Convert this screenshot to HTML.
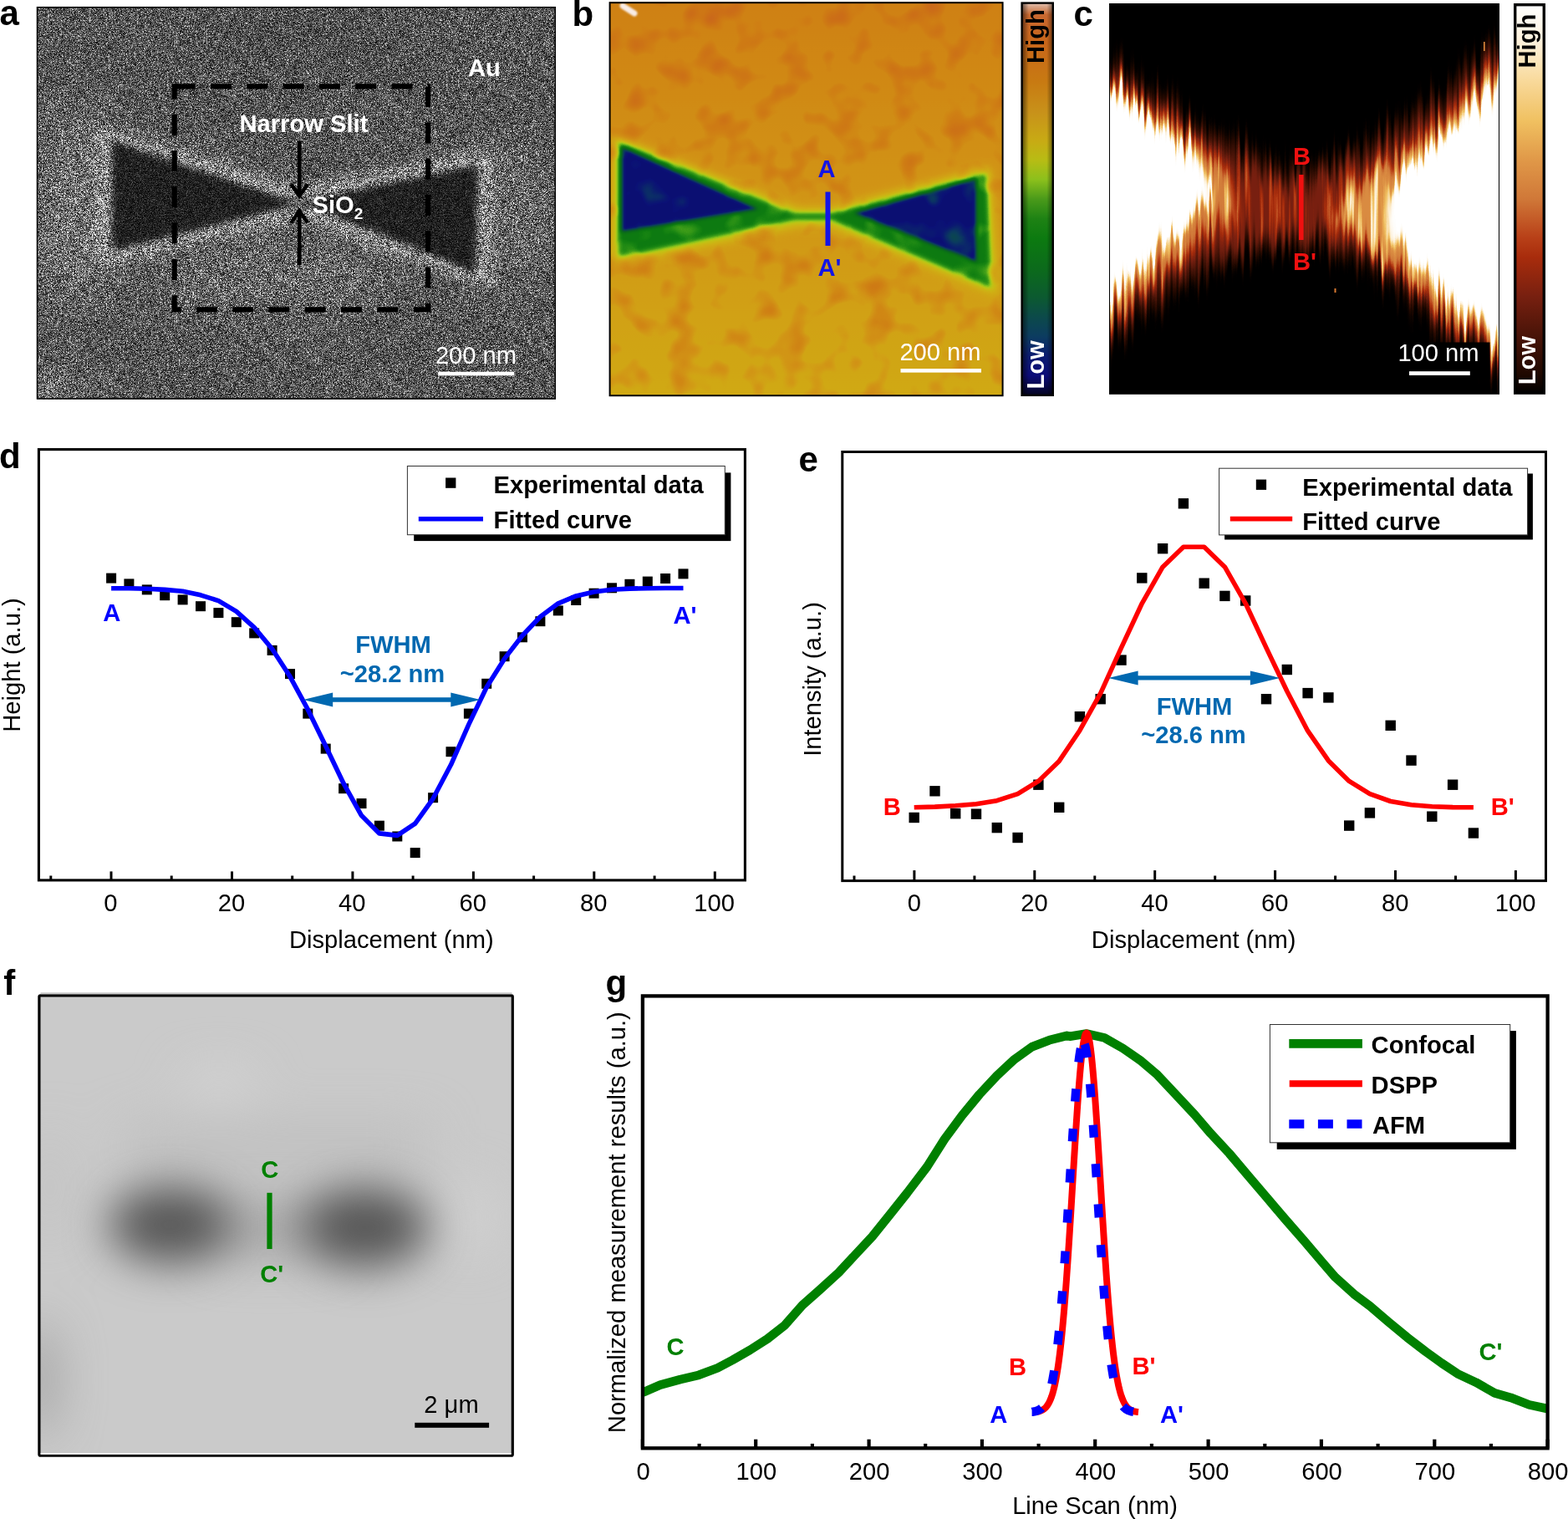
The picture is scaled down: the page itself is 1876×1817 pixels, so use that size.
<!DOCTYPE html>
<html lang="en"><head><meta charset="utf-8"><title>Figure</title>
<style>html,body{margin:0;padding:0;background:#fff;}body{width:1876px;height:1817px;overflow:hidden;}svg{display:block;}text{font-family:"Liberation Sans",sans-serif;}</style>
</head><body>
<svg width="1876" height="1817" viewBox="0 0 1876 1817">
<rect x="0" y="0" width="1876" height="1817" fill="#fff"/>
<defs>
<filter id="blur1" filterUnits="userSpaceOnUse" x="-100" y="-100" width="2100" height="700" color-interpolation-filters="sRGB"><feGaussianBlur stdDeviation="1.2"/></filter>
<filter id="blur2" filterUnits="userSpaceOnUse" x="-100" y="-100" width="2100" height="700" color-interpolation-filters="sRGB"><feGaussianBlur stdDeviation="2"/></filter>
<filter id="blur3" filterUnits="userSpaceOnUse" x="-100" y="-100" width="2100" height="700" color-interpolation-filters="sRGB"><feGaussianBlur stdDeviation="3"/></filter>
<filter id="blur4" filterUnits="userSpaceOnUse" x="-100" y="-100" width="2100" height="700" color-interpolation-filters="sRGB"><feGaussianBlur stdDeviation="4"/></filter>
<filter id="blur8" filterUnits="userSpaceOnUse" x="-100" y="-100" width="2100" height="700" color-interpolation-filters="sRGB"><feGaussianBlur stdDeviation="8"/></filter>
<filter id="blur6" filterUnits="userSpaceOnUse" x="-100" y="-100" width="2100" height="700" color-interpolation-filters="sRGB"><feGaussianBlur stdDeviation="6"/></filter>
<filter id="blur12" filterUnits="userSpaceOnUse" x="-100" y="-100" width="2100" height="700" color-interpolation-filters="sRGB"><feGaussianBlur stdDeviation="12"/></filter>
<filter id="blur16" filterUnits="userSpaceOnUse" x="-100" y="-100" width="2100" height="700" color-interpolation-filters="sRGB"><feGaussianBlur stdDeviation="16"/></filter>
<filter id="blur30a" filterUnits="userSpaceOnUse" x="-100" y="-100" width="900" height="700" color-interpolation-filters="sRGB"><feGaussianBlur stdDeviation="28"/></filter>
<filter id="blur26" filterUnits="userSpaceOnUse" x="0" y="1100" width="700" height="700" color-interpolation-filters="sRGB"><feGaussianBlur stdDeviation="26"/></filter>
<filter id="blur30" filterUnits="userSpaceOnUse" x="0" y="1100" width="700" height="700" color-interpolation-filters="sRGB"><feGaussianBlur stdDeviation="30"/></filter>
<filter id="semnoise" x="0" y="0" width="100%" height="100%" color-interpolation-filters="sRGB">
  <feTurbulence type="fractalNoise" baseFrequency="2.3" numOctaves="1" seed="7" result="n"/>
  <feColorMatrix in="n" type="matrix" values="2.2 0 0 0 -0.6  2.2 0 0 0 -0.6  2.2 0 0 0 -0.6  0 0 0 0 1" result="g"/>
  <feComponentTransfer in="g" result="g2"><feFuncR type="gamma" exponent="1.6"/><feFuncG type="gamma" exponent="1.6"/><feFuncB type="gamma" exponent="1.6"/></feComponentTransfer>
  <feComposite in="SourceGraphic" in2="g2" operator="arithmetic" k1="2.35" k2="0.1" k3="0" k4="0"/>
</filter>
<clipPath id="clipA"><rect x="44" y="8" width="621" height="469.5"/></clipPath>
<clipPath id="clipB"><rect x="729" y="2.5" width="471" height="471"/></clipPath>
<clipPath id="clipC"><rect x="1327" y="4" width="467" height="467.6"/></clipPath>
<clipPath id="clipF"><rect x="46.6" y="1190" width="567.2" height="552"/></clipPath>
</defs>
<g id="panel-a">
<g clip-path="url(#clipA)">
<g filter="url(#semnoise)">
<rect x="44" y="8" width="621" height="469.5" fill="#5e5e5e"/>
<g filter="url(#blur30a)">
<ellipse cx="90" cy="250" rx="45" ry="120" fill="#808080"/>
<ellipse cx="350" cy="50" rx="130" ry="40" fill="#565656"/>
<ellipse cx="58" cy="474" rx="32" ry="10" fill="#e0e0e0"/>
<ellipse cx="330" cy="330" rx="150" ry="40" fill="#767676"/>
<ellipse cx="620" cy="260" rx="30" ry="90" fill="#7a7a7a"/>
</g>
<g filter="url(#blur8)">
<polygon points="116,150 358,226 588,180 588,344 358,260 116,318" fill="#aaaaaa"/>
</g>
<g filter="url(#blur4)">
<polygon points="133,167 338,236 358,241 380,236 573,196 570,328 380,251 358,246 338,250 133,302" fill="#242424"/>
</g>
<g filter="url(#blur8)">
<ellipse cx="358" cy="243" rx="22" ry="9" fill="#686868" opacity="0.6"/>
</g>
</g>
</g>
<rect x="44.5" y="8.7" width="619.8" height="468.2" fill="none" stroke="#000" stroke-width="1.5"/>
<rect x="208.7" y="103.4" width="303.4" height="267" fill="none" stroke="#000" stroke-width="6.2" stroke-dasharray="25 18.3"/>
<text x="286.5" y="158.0" font-size="29.17" font-weight="bold" fill="#fff" text-anchor="start" >Narrow Slit</text>
<text x="560.0" y="90.7" font-size="29.17" font-weight="bold" fill="#fff" text-anchor="start" >Au</text>
<text x="373.5" y="254.5" font-size="29.17" font-weight="bold" fill="#fff">SiO<tspan font-size="19" dy="7">2</tspan></text>
<g stroke="#000" fill="none">
<line x1="358.2" y1="168.9" x2="358.2" y2="236" stroke-width="4.7"/>
<polyline points="348.3,220.3 358.2,234.6 368.1,220.3" stroke-width="4.4"/>
<line x1="358.2" y1="317.2" x2="358.2" y2="250.5" stroke-width="4.7"/>
<polyline points="348.3,266.5 358.2,252.2 368.1,266.5" stroke-width="4.4"/>
</g>
<rect x="524.3" y="444.7" width="90.7" height="4.6" fill="#fff"/>
<text x="569.5" y="434.7" font-size="29.17" font-weight="normal" fill="#fff" text-anchor="middle" >200 nm</text>
</g>
<g id="panel-b">
<filter id="fb" filterUnits="userSpaceOnUse" x="700" y="-30" width="530" height="540" color-interpolation-filters="sRGB">
<feTurbulence type="fractalNoise" baseFrequency="0.03" numOctaves="2" seed="11" result="n"/>
<feColorMatrix in="n" type="matrix" values="0.34 0 0 0 -0.17  0.34 0 0 0 -0.17  0.34 0 0 0 -0.17  0 0 0 0 1" result="n2"/>
<feComposite in="SourceGraphic" in2="n2" operator="arithmetic" k1="0" k2="1" k3="1" k4="0" result="h"/>
<feComponentTransfer in="h"><feFuncR type="table" tableValues="0.016 0.035 0.047 0.047 0.047 0.047 0.047 0.047 0.047 0.047 0.047 0.047 0.047 0.056 0.100 0.182 0.290 0.462 0.616 0.743 0.792 0.816 0.820 0.823 0.819 0.815 0.810 0.805 0.800 0.795 0.790 0.785 0.878"/><feFuncG type="table" tableValues="0.016 0.035 0.063 0.102 0.173 0.242 0.276 0.314 0.353 0.381 0.409 0.434 0.459 0.486 0.525 0.579 0.643 0.731 0.780 0.771 0.729 0.681 0.636 0.590 0.553 0.516 0.484 0.460 0.435 0.415 0.411 0.408 0.753"/><feFuncB type="table" tableValues="0.125 0.341 0.463 0.443 0.408 0.366 0.312 0.252 0.188 0.153 0.118 0.096 0.077 0.065 0.075 0.087 0.102 0.107 0.102 0.082 0.078 0.079 0.083 0.086 0.083 0.080 0.080 0.085 0.090 0.103 0.145 0.187 0.690"/><feFuncA type="linear" slope="0" intercept="1"/></feComponentTransfer>
</filter>
<linearGradient id="gbbg" x1="0" y1="0" x2="0" y2="1">
<stop offset="0" stop-color="#cccccc"/><stop offset="0.5" stop-color="#b8b8b8"/><stop offset="1" stop-color="#a8a8a8"/></linearGradient>
<linearGradient id="gbbar" x1="0" y1="1" x2="0" y2="0"><stop offset="0" stop-color="#040420"/><stop offset="0.05" stop-color="#0c0c78"/><stop offset="0.1" stop-color="#0c1c70"/><stop offset="0.15" stop-color="#0c3c60"/><stop offset="0.2" stop-color="#0c4a4a"/><stop offset="0.25" stop-color="#0c5a30"/><stop offset="0.32" stop-color="#0c6a1c"/><stop offset="0.4" stop-color="#0c7a10"/><stop offset="0.45" stop-color="#1e8214"/><stop offset="0.5" stop-color="#4a9a1a"/><stop offset="0.55" stop-color="#8cc01c"/><stop offset="0.6" stop-color="#b8bc14"/><stop offset="0.65" stop-color="#c8aa14"/><stop offset="0.72" stop-color="#c8921a"/><stop offset="0.8" stop-color="#c87a12"/><stop offset="0.9" stop-color="#c8661a"/><stop offset="0.97" stop-color="#c86830"/><stop offset="1.0" stop-color="#e0c0b0"/></linearGradient>
<g clip-path="url(#clipB)">
<g filter="url(#fb)">
<rect x="700" y="-30" width="530" height="540" fill="url(#gbbg)"/>
<g filter="url(#blur6)">
<polygon points="734,162 955,250 993,250 1184,200 1192,352 993,270 955,270 734,316" fill="#959595"/>
</g>
<g filter="url(#blur3)">
<polygon points="740,170 950,256 995,256 1180,208 1185,343 995,262 950,262 740,307" fill="#666666"/>
</g>
<g filter="url(#blur2)">
<polygon points="744,176 907,250 744,277" fill="#0f0f0f"/>
<polygon points="1168,214 1022,255 1168,313" fill="#0f0f0f"/>
</g>
</g>
</g>
<g clip-path="url(#clipB)"><line x1="745" y1="7" x2="759" y2="16" stroke="#f8ece6" stroke-width="7" stroke-linecap="round" filter="url(#blur1)"/></g>
<rect x="729.6" y="3.2" width="470" height="470" fill="none" stroke="#000" stroke-width="2"/>
<rect x="987.5" y="229.5" width="6" height="64.5" fill="#1414e6"/>
<text x="978.5" y="211.5" font-size="29.17" font-weight="bold" fill="#1414e6" text-anchor="start" >A</text>
<text x="978.5" y="330.0" font-size="29.17" font-weight="bold" fill="#1414e6" text-anchor="start" >A'</text>
<rect x="1077.5" y="441" width="96.5" height="4.6" fill="#fff"/>
<text x="1125.0" y="431.0" font-size="29.17" font-weight="normal" fill="#fff" text-anchor="middle" >200 nm</text>
<linearGradient id="bevel" x1="0" y1="0" x2="1" y2="0"><stop offset="0" stop-color="#000" stop-opacity="0.55"/><stop offset="0.22" stop-color="#000" stop-opacity="0"/><stop offset="0.8" stop-color="#000" stop-opacity="0"/><stop offset="1" stop-color="#000" stop-opacity="0.45"/></linearGradient>
<rect x="1222.6" y="3.6" width="37.2" height="469.2" fill="url(#gbbar)"/>
<rect x="1222.6" y="3.6" width="37.2" height="469.2" fill="url(#bevel)" stroke="#000" stroke-width="2.4"/>
<text transform="translate(1249.2,76) rotate(-90)" font-size="29.17" font-weight="bold" fill="#000">High</text>
<text transform="translate(1249.2,465.6) rotate(-90)" font-size="29.17" font-weight="bold" fill="#fff">Low</text>
</g>
<g id="panel-c">
<filter id="fc" filterUnits="userSpaceOnUse" x="1260" y="-60" width="600" height="600" color-interpolation-filters="sRGB">
<feTurbulence type="fractalNoise" baseFrequency="0.19 0.006" numOctaves="2" seed="5" result="n"/>
<feColorMatrix in="n" type="matrix" values="0 0 0 0 0.5  0 2.2 0 0 -0.6  0 0 0 0 0  0 0 0 0 1" result="dm"/>
<feDisplacementMap in="SourceGraphic" in2="dm" scale="36" xChannelSelector="R" yChannelSelector="G" result="d"/>
<feColorMatrix in="n" type="matrix" values="0 0 1.6 0 -0.8  0 0 1.6 0 -0.8  0 0 1.6 0 -0.8  0 0 0 0 1" result="n3"/>
<feComposite in="d" in2="n3" operator="arithmetic" k1="1.8" k2="1.0" k3="0" k4="0" result="h"/>
<feComponentTransfer in="h"><feFuncR type="table" tableValues="0.000 0.078 0.146 0.198 0.249 0.301 0.358 0.414 0.471 0.529 0.588 0.647 0.690 0.727 0.757 0.786 0.816 0.835 0.855 0.875 0.894 0.914 0.933 0.947 0.957 0.967 0.975 0.981 0.987 0.993 0.995 0.998 1.000"/><feFuncG type="table" tableValues="0.000 0.020 0.037 0.052 0.067 0.081 0.096 0.111 0.125 0.140 0.155 0.170 0.212 0.265 0.333 0.402 0.471 0.510 0.549 0.588 0.635 0.684 0.733 0.771 0.800 0.829 0.859 0.888 0.918 0.945 0.963 0.982 1.000"/><feFuncB type="table" tableValues="0.000 0.000 0.004 0.014 0.024 0.033 0.043 0.053 0.063 0.058 0.053 0.048 0.071 0.102 0.141 0.180 0.220 0.239 0.259 0.278 0.306 0.335 0.365 0.418 0.486 0.555 0.627 0.706 0.784 0.857 0.904 0.952 1.000"/><feFuncA type="linear" slope="0" intercept="1"/></feComponentTransfer>
</filter>
<linearGradient id="gcbar" x1="0" y1="1" x2="0" y2="0"><stop offset="0" stop-color="#000000"/><stop offset="0.05" stop-color="#200800"/><stop offset="0.15" stop-color="#4a1408"/><stop offset="0.25" stop-color="#782010"/><stop offset="0.35" stop-color="#a82c0c"/><stop offset="0.4" stop-color="#b84018"/><stop offset="0.5" stop-color="#d07838"/><stop offset="0.6" stop-color="#e09848"/><stop offset="0.7" stop-color="#f0c060"/><stop offset="0.8" stop-color="#f8d898"/><stop offset="0.9" stop-color="#fdf0d8"/><stop offset="1.0" stop-color="#ffffff"/></linearGradient>
<g clip-path="url(#clipC)">
<g filter="url(#fc)">
<rect x="1260" y="-60" width="600" height="600" fill="#000"/>
<g filter="url(#blur12)">
<polygon points="1280,40 1327,80 1400,135 1470,180 1530,205 1560,212 1600,200 1660,170 1720,125 1794,70 1840,35 1840,480 1794,438 1740,392 1690,345 1640,310 1590,290 1550,284 1500,290 1450,310 1400,340 1327,392 1280,430" fill="#404040"/>
</g>
<g filter="url(#blur8)">
<polygon points="1280,54 1327,92 1380,132 1430,170 1475,215 1480,250 1440,285 1400,318 1327,378 1280,420" fill="#858585"/>
<polygon points="1840,44 1794,88 1740,134 1690,178 1630,212 1598,255 1640,300 1700,345 1750,390 1794,428 1840,466" fill="#8f8f8f"/>
</g>
<g filter="url(#blur4)">
<polygon points="1280,64 1327,104 1377,142 1427,185 1450,226 1450,242 1402,284 1352,334 1327,359 1280,404" fill="#fff"/>
<polygon points="1840,58 1794,100 1700,189 1662,225 1658,255 1662,285 1700,321 1750,371 1794,408 1840,450" fill="#fff"/>
</g>
</g>
</g>
<rect x="1327.5" y="4.5" width="466" height="466.6" fill="none" stroke="#000" stroke-width="1"/>
<rect x="1775" y="50" width="1.6" height="11" fill="#e08a3c"/>
<rect x="1596.5" y="345" width="2" height="5" fill="#d87830"/>
<rect x="1554" y="209" width="5.6" height="78" fill="#f01010"/>
<text x="1547.0" y="197.0" font-size="29.17" font-weight="bold" fill="#f01010" text-anchor="start" >B</text>
<text x="1547.0" y="323.0" font-size="29.17" font-weight="bold" fill="#f01010" text-anchor="start" >B'</text>
<rect x="1668" y="409.5" width="114.5" height="44" fill="#000"/>
<rect x="1686" y="444.2" width="72.8" height="4.7" fill="#fff"/>
<text x="1721.0" y="432.0" font-size="29.17" font-weight="normal" fill="#fff" text-anchor="middle" >100 nm</text>
<rect x="1812.7" y="5.7" width="34.6" height="464.4" fill="url(#gcbar)" stroke="#000" stroke-width="3.4"/>
<text transform="translate(1837.4,81.5) rotate(-90)" font-size="29.17" font-weight="bold" fill="#000">High</text>
<text transform="translate(1837.4,460.3) rotate(-90)" font-size="29.17" font-weight="bold" fill="#fff">Low</text>
</g>
<g id="panel-f">
<g clip-path="url(#clipF)">
<rect x="46.6" y="1190" width="567.2" height="552" fill="#cacaca"/>
<g filter="url(#blur30)">
<ellipse cx="262" cy="1298" rx="45" ry="12" fill="#dcdcdc"/>
<ellipse cx="560" cy="1455" rx="30" ry="40" fill="#d2d2d2"/>
<ellipse cx="46" cy="1650" rx="14" ry="70" fill="#8c8c8c"/>
<ellipse cx="60" cy="1420" rx="10" ry="70" fill="#bcbcbc"/>
<rect x="150" y="1350" width="360" height="40" fill="#bcbcbc"/>
<rect x="250" y="1440" width="150" height="60" fill="#a4a4a4"/>
</g>
<g filter="url(#blur26)">
<ellipse cx="204" cy="1465" rx="74" ry="46" fill="#565656"/>
<ellipse cx="437" cy="1468" rx="76" ry="48" fill="#565656"/>
</g>
</g>
<rect x="46.9" y="1190.8" width="566.4" height="550.4" rx="1.5" fill="none" stroke="#000" stroke-width="3.2"/>
<rect x="48.5" y="1187.2" width="564" height="2" fill="#c8c8c8"/>
<rect x="48.5" y="1738.2" width="563.2" height="1.6" fill="#fff"/>
<rect x="319.4" y="1426.8" width="6.2" height="67.2" fill="#008000"/>
<text x="312.2" y="1409.3" font-size="29.17" font-weight="bold" fill="#008000" text-anchor="start" >C</text>
<text x="311.3" y="1534.3" font-size="29.17" font-weight="bold" fill="#008000" text-anchor="start" >C'</text>
<rect x="496.3" y="1701.8" width="88.8" height="6" fill="#000"/>
<text x="540.0" y="1689.9" font-size="29.17" font-weight="normal" fill="#000" text-anchor="middle" >2 μm</text>
</g>
<g id="plot-d">
<rect x="46.4" y="537.6" width="845.0" height="515.3" fill="#fff" stroke="#000" stroke-width="3.1"/>
<line x1="60.8" y1="1052.9" x2="60.8" y2="1047.5" stroke="#000" stroke-width="3"/>
<line x1="133.0" y1="1052.9" x2="133.0" y2="1042.4" stroke="#000" stroke-width="3"/>
<text x="132.4" y="1090.0" font-size="29.17" font-weight="normal" fill="#000" text-anchor="middle" >0</text>
<line x1="205.2" y1="1052.9" x2="205.2" y2="1047.5" stroke="#000" stroke-width="3"/>
<line x1="277.5" y1="1052.9" x2="277.5" y2="1042.4" stroke="#000" stroke-width="3"/>
<text x="276.9" y="1090.0" font-size="29.17" font-weight="normal" fill="#000" text-anchor="middle" >20</text>
<line x1="349.7" y1="1052.9" x2="349.7" y2="1047.5" stroke="#000" stroke-width="3"/>
<line x1="421.9" y1="1052.9" x2="421.9" y2="1042.4" stroke="#000" stroke-width="3"/>
<text x="421.3" y="1090.0" font-size="29.17" font-weight="normal" fill="#000" text-anchor="middle" >40</text>
<line x1="494.1" y1="1052.9" x2="494.1" y2="1047.5" stroke="#000" stroke-width="3"/>
<line x1="566.4" y1="1052.9" x2="566.4" y2="1042.4" stroke="#000" stroke-width="3"/>
<text x="565.8" y="1090.0" font-size="29.17" font-weight="normal" fill="#000" text-anchor="middle" >60</text>
<line x1="638.6" y1="1052.9" x2="638.6" y2="1047.5" stroke="#000" stroke-width="3"/>
<line x1="710.8" y1="1052.9" x2="710.8" y2="1042.4" stroke="#000" stroke-width="3"/>
<text x="710.2" y="1090.0" font-size="29.17" font-weight="normal" fill="#000" text-anchor="middle" >80</text>
<line x1="783.1" y1="1052.9" x2="783.1" y2="1047.5" stroke="#000" stroke-width="3"/>
<line x1="855.3" y1="1052.9" x2="855.3" y2="1042.4" stroke="#000" stroke-width="3"/>
<text x="854.7" y="1090.0" font-size="29.17" font-weight="normal" fill="#000" text-anchor="middle" >100</text>
<text x="468.3" y="1133.6" font-size="29.17" font-weight="normal" fill="#000" text-anchor="middle" >Displacement (nm)</text>
<text transform="translate(24,795.5) rotate(-90)" font-size="29.17" text-anchor="middle">Height (a.u.)</text>
<rect x="127.1" y="685.6" width="12.0" height="12.0" fill="#000"/>
<rect x="148.4" y="692.4" width="12.0" height="12.0" fill="#000"/>
<rect x="169.8" y="699.4" width="12.0" height="12.0" fill="#000"/>
<rect x="191.2" y="706.2" width="12.0" height="12.0" fill="#000"/>
<rect x="212.6" y="711.4" width="12.0" height="12.0" fill="#000"/>
<rect x="234.0" y="719.2" width="12.0" height="12.0" fill="#000"/>
<rect x="255.4" y="727.1" width="12.0" height="12.0" fill="#000"/>
<rect x="276.8" y="738.2" width="12.0" height="12.0" fill="#000"/>
<rect x="298.2" y="751.4" width="12.0" height="12.0" fill="#000"/>
<rect x="319.6" y="771.9" width="12.0" height="12.0" fill="#000"/>
<rect x="341.0" y="800.1" width="12.0" height="12.0" fill="#000"/>
<rect x="362.3" y="847.6" width="12.0" height="12.0" fill="#000"/>
<rect x="383.7" y="889.6" width="12.0" height="12.0" fill="#000"/>
<rect x="405.1" y="937.2" width="12.0" height="12.0" fill="#000"/>
<rect x="426.5" y="955.1" width="12.0" height="12.0" fill="#000"/>
<rect x="447.9" y="981.7" width="12.0" height="12.0" fill="#000"/>
<rect x="469.3" y="994.5" width="12.0" height="12.0" fill="#000"/>
<rect x="490.7" y="1014.1" width="12.0" height="12.0" fill="#000"/>
<rect x="512.1" y="948.2" width="12.0" height="12.0" fill="#000"/>
<rect x="533.5" y="893.2" width="12.0" height="12.0" fill="#000"/>
<rect x="554.9" y="847.6" width="12.0" height="12.0" fill="#000"/>
<rect x="576.2" y="811.8" width="12.0" height="12.0" fill="#000"/>
<rect x="597.6" y="779.2" width="12.0" height="12.0" fill="#000"/>
<rect x="619.0" y="756.3" width="12.0" height="12.0" fill="#000"/>
<rect x="640.4" y="737.2" width="12.0" height="12.0" fill="#000"/>
<rect x="661.8" y="724.4" width="12.0" height="12.0" fill="#000"/>
<rect x="683.2" y="712.0" width="12.0" height="12.0" fill="#000"/>
<rect x="704.6" y="703.7" width="12.0" height="12.0" fill="#000"/>
<rect x="726.0" y="697.3" width="12.0" height="12.0" fill="#000"/>
<rect x="747.4" y="692.8" width="12.0" height="12.0" fill="#000"/>
<rect x="768.8" y="689.6" width="12.0" height="12.0" fill="#000"/>
<rect x="790.1" y="686.0" width="12.0" height="12.0" fill="#000"/>
<rect x="811.5" y="680.4" width="12.0" height="12.0" fill="#000"/>
<polyline points="133.1,703.7 154.4,703.8 175.8,704.3 197.2,705.4 218.6,707.3 240.0,711.8 261.4,718.6 282.8,731.4 304.2,750.6 325.6,776.2 347.0,809.3 368.3,848.7 389.7,892.4 411.1,937.2 432.5,975.6 453.9,996.9 475.3,999.4 496.7,985.2 518.1,955.3 539.5,914.8 560.9,866.4 582.2,822.0 603.6,787.9 625.0,760.2 646.4,737.8 667.8,721.8 689.2,712.9 710.6,708.0 732.0,705.2 753.4,704.1 774.8,703.7 796.1,703.5 817.5,703.5" fill="none" stroke="#0000ff" stroke-width="5.6" stroke-linejoin="round" />
<text x="123.2" y="742.7" font-size="29.17" font-weight="bold" fill="#0000ff" text-anchor="start" >A</text>
<text x="805.5" y="746.4" font-size="29.17" font-weight="bold" fill="#0000ff" text-anchor="start" >A'</text>
<text x="470.5" y="781.0" font-size="29.17" font-weight="bold" fill="#0068b0" text-anchor="middle" >FWHM</text>
<text x="469.5" y="816.4" font-size="29.17" font-weight="bold" fill="#0068b0" text-anchor="middle" >~28.2 nm</text>
<line x1="396.2" y1="837" x2="541.3" y2="837" stroke="#0068b0" stroke-width="5.4"/><polygon points="362.7,837 398.2,828.5 398.2,845.5" fill="#0068b0"/><polygon points="574.8,837 539.3,828.5 539.3,845.5" fill="#0068b0"/>
<rect x="495.2" y="565.4" width="379.2" height="81.7" fill="#000"/><rect x="487.4" y="557.5" width="379.9" height="82.2" fill="#fff" stroke="#333" stroke-width="1"/>
<rect x="533.1" y="571.5" width="12.3" height="12.3" fill="#000"/>
<line x1="500.8" y1="620.7" x2="578" y2="620.7" stroke="#0000ff" stroke-width="5.6"/>
<text x="590.6" y="590.0" font-size="29.17" font-weight="bold" fill="#000" text-anchor="start" >Experimental data</text>
<text x="590.6" y="632.3" font-size="29.17" font-weight="bold" fill="#000" text-anchor="start" >Fitted curve</text>
</g>
<g id="plot-e">
<rect x="1007.8" y="540.5" width="841.7" height="513.1" fill="#fff" stroke="#000" stroke-width="3.0"/>
<line x1="1022.0" y1="1053.6" x2="1022.0" y2="1047.5" stroke="#000" stroke-width="3"/>
<line x1="1093.9" y1="1053.6" x2="1093.9" y2="1041.1" stroke="#000" stroke-width="3"/>
<text x="1093.9" y="1090.0" font-size="29.17" font-weight="normal" fill="#000" text-anchor="middle" >0</text>
<line x1="1165.9" y1="1053.6" x2="1165.9" y2="1047.5" stroke="#000" stroke-width="3"/>
<line x1="1237.8" y1="1053.6" x2="1237.8" y2="1041.1" stroke="#000" stroke-width="3"/>
<text x="1237.5" y="1090.0" font-size="29.17" font-weight="normal" fill="#000" text-anchor="middle" >20</text>
<line x1="1309.8" y1="1053.6" x2="1309.8" y2="1047.5" stroke="#000" stroke-width="3"/>
<line x1="1381.7" y1="1053.6" x2="1381.7" y2="1041.1" stroke="#000" stroke-width="3"/>
<text x="1381.4" y="1090.0" font-size="29.17" font-weight="normal" fill="#000" text-anchor="middle" >40</text>
<line x1="1453.7" y1="1053.6" x2="1453.7" y2="1047.5" stroke="#000" stroke-width="3"/>
<line x1="1525.6" y1="1053.6" x2="1525.6" y2="1041.1" stroke="#000" stroke-width="3"/>
<text x="1525.3" y="1090.0" font-size="29.17" font-weight="normal" fill="#000" text-anchor="middle" >60</text>
<line x1="1597.6" y1="1053.6" x2="1597.6" y2="1047.5" stroke="#000" stroke-width="3"/>
<line x1="1669.5" y1="1053.6" x2="1669.5" y2="1041.1" stroke="#000" stroke-width="3"/>
<text x="1669.2" y="1090.0" font-size="29.17" font-weight="normal" fill="#000" text-anchor="middle" >80</text>
<line x1="1741.5" y1="1053.6" x2="1741.5" y2="1047.5" stroke="#000" stroke-width="3"/>
<line x1="1813.4" y1="1053.6" x2="1813.4" y2="1041.1" stroke="#000" stroke-width="3"/>
<text x="1813.1" y="1090.0" font-size="29.17" font-weight="normal" fill="#000" text-anchor="middle" >100</text>
<text x="1428.2" y="1134.2" font-size="29.17" font-weight="normal" fill="#000" text-anchor="middle" >Displacement (nm)</text>
<text transform="translate(981.9,812.5) rotate(-90)" font-size="29.17" text-anchor="middle">Intensity (a.u.)</text>
<rect x="1087.5" y="971.8" width="12.4" height="12.4" fill="#000"/>
<rect x="1112.3" y="940.1" width="12.4" height="12.4" fill="#000"/>
<rect x="1137.0" y="967.0" width="12.4" height="12.4" fill="#000"/>
<rect x="1161.8" y="967.5" width="12.4" height="12.4" fill="#000"/>
<rect x="1186.6" y="983.9" width="12.4" height="12.4" fill="#000"/>
<rect x="1211.4" y="995.8" width="12.4" height="12.4" fill="#000"/>
<rect x="1236.2" y="932.5" width="12.4" height="12.4" fill="#000"/>
<rect x="1261.0" y="959.6" width="12.4" height="12.4" fill="#000"/>
<rect x="1285.7" y="851.0" width="12.4" height="12.4" fill="#000"/>
<rect x="1310.5" y="830.0" width="12.4" height="12.4" fill="#000"/>
<rect x="1335.3" y="783.4" width="12.4" height="12.4" fill="#000"/>
<rect x="1360.1" y="685.2" width="12.4" height="12.4" fill="#000"/>
<rect x="1384.9" y="650.0" width="12.4" height="12.4" fill="#000"/>
<rect x="1409.7" y="596.1" width="12.4" height="12.4" fill="#000"/>
<rect x="1434.5" y="691.5" width="12.4" height="12.4" fill="#000"/>
<rect x="1459.2" y="706.7" width="12.4" height="12.4" fill="#000"/>
<rect x="1484.0" y="712.3" width="12.4" height="12.4" fill="#000"/>
<rect x="1508.8" y="830.0" width="12.4" height="12.4" fill="#000"/>
<rect x="1533.6" y="794.8" width="12.4" height="12.4" fill="#000"/>
<rect x="1558.4" y="822.9" width="12.4" height="12.4" fill="#000"/>
<rect x="1583.2" y="828.2" width="12.4" height="12.4" fill="#000"/>
<rect x="1608.0" y="981.4" width="12.4" height="12.4" fill="#000"/>
<rect x="1632.7" y="966.2" width="12.4" height="12.4" fill="#000"/>
<rect x="1657.5" y="861.6" width="12.4" height="12.4" fill="#000"/>
<rect x="1682.3" y="903.4" width="12.4" height="12.4" fill="#000"/>
<rect x="1707.1" y="970.5" width="12.4" height="12.4" fill="#000"/>
<rect x="1731.9" y="932.5" width="12.4" height="12.4" fill="#000"/>
<rect x="1756.7" y="990.3" width="12.4" height="12.4" fill="#000"/>
<polyline points="1093.7,965.8 1118.5,965.1 1143.2,963.8 1168.0,961.8 1192.8,957.7 1217.6,949.6 1242.4,934.4 1267.2,910.4 1291.9,873.7 1316.7,829.4 1341.5,774.9 1366.3,721.8 1391.1,678.2 1415.9,654.2 1440.7,654.2 1465.4,678.2 1490.2,721.8 1515.0,774.9 1539.8,826.8 1564.6,874.2 1589.4,909.9 1614.2,934.4 1638.9,949.6 1663.7,958.5 1688.5,962.8 1713.3,964.8 1738.1,965.6 1762.9,965.8" fill="none" stroke="#ff0000" stroke-width="5.6" stroke-linejoin="round" />
<text x="1056.8" y="975.4" font-size="29.17" font-weight="bold" fill="#ff0000" text-anchor="start" >B</text>
<text x="1783.8" y="975.4" font-size="29.17" font-weight="bold" fill="#ff0000" text-anchor="start" >B'</text>
<text x="1429.0" y="854.7" font-size="29.17" font-weight="bold" fill="#0068b0" text-anchor="middle" >FWHM</text>
<text x="1428.0" y="889.4" font-size="29.17" font-weight="bold" fill="#0068b0" text-anchor="middle" >~28.6 nm</text>
<line x1="1359.6" y1="810.9" x2="1497.9" y2="810.9" stroke="#0068b0" stroke-width="5.4"/><polygon points="1326.1,810.9 1361.6,802.4 1361.6,819.4" fill="#0068b0"/><polygon points="1531.4,810.9 1495.9,802.4 1495.9,819.4" fill="#0068b0"/>
<rect x="1465.1" y="566.5" width="368.8" height="79.0" fill="#000"/><rect x="1458.6" y="560.2" width="369.0" height="79.7" fill="#fff" stroke="#333" stroke-width="1"/>
<rect x="1502.8" y="573.6" width="12.3" height="12.3" fill="#000"/>
<line x1="1471.8" y1="620.6" x2="1546.2" y2="620.6" stroke="#ff0000" stroke-width="5.6"/>
<text x="1558.3" y="592.7" font-size="29.17" font-weight="bold" fill="#000" text-anchor="start" >Experimental data</text>
<text x="1558.3" y="633.9" font-size="29.17" font-weight="bold" fill="#000" text-anchor="start" >Fitted curve</text>
</g>
<g id="plot-g">
<rect x="768.9" y="1191.4" width="1082.7" height="540.9" fill="#fff"/>
<clipPath id="gclip"><rect x="768.9" y="1191.4" width="1082.7" height="540.9"/></clipPath>
<g clip-path="url(#gclip)">
<polyline points="755.0,1668.7 770.4,1665.1 789.9,1656.7 813.7,1650.1 836.1,1644.8 858.5,1636.4 876.4,1626.9 897.3,1614.9 918.2,1601.5 939.1,1585.1 960.0,1561.2 980.9,1542.7 1003.3,1522.4 1022.7,1501.5 1043.6,1479.1 1064.5,1453.1 1085.4,1426.9 1109.3,1395.5 1130.1,1362.7 1151.0,1334.3 1171.9,1309.0 1192.8,1286.6 1213.7,1267.2 1234.6,1252.2 1255.5,1244.2 1276.4,1238.8 1280.0,1239.7 1299.7,1236.5 1321.3,1241.3 1343.5,1254.0 1364.2,1268.3 1384.8,1285.8 1407.1,1309.6 1429.3,1333.4 1448.4,1355.7 1470.6,1379.5 1492.9,1405.9 1515.1,1431.9 1537.3,1458.0 1559.6,1483.4 1581.8,1509.7 1597.7,1527.9 1619.9,1547.9 1639.0,1562.2 1661.2,1581.2 1683.5,1599.7 1705.7,1616.8 1724.8,1630.5 1743.8,1643.2 1766.1,1653.7 1788.3,1666.4 1807.4,1671.8 1829.6,1680.4 1848.7,1684.5 1867.7,1688.6" fill="none" stroke="#008000" stroke-width="10.6" stroke-linejoin="round" />
</g>
<polyline points="1238.0,1689.1 1239.0,1689.0 1240.0,1688.8 1241.0,1688.7 1242.0,1688.5 1243.0,1688.3 1244.0,1688.0 1245.0,1687.6 1246.0,1687.2 1247.0,1686.7 1248.0,1686.1 1249.0,1685.5 1250.0,1684.6 1251.0,1683.7 1252.0,1682.6 1253.0,1681.3 1254.0,1679.7 1255.0,1678.0 1256.0,1676.0 1257.0,1673.7 1258.0,1671.0 1259.0,1668.0 1260.0,1664.6 1261.0,1660.8 1262.0,1656.5 1263.0,1651.6 1264.0,1646.3 1265.0,1640.3 1266.0,1633.8 1267.0,1626.6 1268.0,1618.7 1269.0,1610.1 1270.0,1600.8 1271.0,1590.8 1272.0,1580.0 1273.0,1568.6 1274.0,1556.3 1275.0,1543.4 1276.0,1529.9 1277.0,1515.6 1278.0,1500.9 1279.0,1485.5 1280.0,1469.8 1281.0,1453.7 1282.0,1437.3 1283.0,1420.8 1284.0,1404.2 1285.0,1387.7 1286.0,1371.4 1287.0,1355.4 1288.0,1339.9 1289.0,1325.0 1290.0,1310.8 1291.0,1297.6 1292.0,1285.3 1293.0,1274.1 1294.0,1264.2 1295.0,1255.6 1296.0,1248.5 1297.0,1242.9 1298.0,1238.8 1299.0,1236.3 1300.0,1235.5 1301.0,1236.3 1302.0,1238.8 1303.0,1242.9 1304.0,1248.5 1305.0,1255.6 1306.0,1264.2 1307.0,1274.1 1308.0,1285.3 1309.0,1297.6 1310.0,1310.8 1311.0,1325.0 1312.0,1339.9 1313.0,1355.4 1314.0,1371.4 1315.0,1387.7 1316.0,1404.2 1317.0,1420.8 1318.0,1437.3 1319.0,1453.7 1320.0,1469.8 1321.0,1485.5 1322.0,1500.9 1323.0,1515.6 1324.0,1529.9 1325.0,1543.4 1326.0,1556.3 1327.0,1568.6 1328.0,1580.0 1329.0,1590.8 1330.0,1600.8 1331.0,1610.1 1332.0,1618.7 1333.0,1626.6 1334.0,1633.8 1335.0,1640.3 1336.0,1646.3 1337.0,1651.6 1338.0,1656.5 1339.0,1660.8 1340.0,1664.6 1341.0,1668.0 1342.0,1671.0 1343.0,1673.7 1344.0,1676.0 1345.0,1678.0 1346.0,1679.7 1347.0,1681.3 1348.0,1682.6 1349.0,1683.7 1350.0,1684.6 1351.0,1685.5 1352.0,1686.1 1353.0,1686.7 1354.0,1687.2 1355.0,1687.6 1356.0,1688.0 1357.0,1688.3 1358.0,1688.5 1359.0,1688.7 1360.0,1688.8 1361.0,1689.0 1362.0,1689.1" fill="none" stroke="#ff0000" stroke-width="8.0" stroke-linejoin="round" />
<polyline points="1234.6,1688.8 1234.9,1688.8 1235.2,1688.8 1235.5,1688.7 1235.8,1688.7 1236.1,1688.6 1236.4,1688.6 1236.7,1688.6 1237.0,1688.5 1237.3,1688.4 1237.6,1688.4 1237.9,1688.3 1238.2,1688.3 1238.5,1688.2 1238.8,1688.1 1239.1,1688.1 1239.4,1688.0 1239.7,1687.9 1240.0,1687.8 1240.3,1687.7 1240.6,1687.6 1240.9,1687.5 1241.2,1687.4 1241.5,1687.3 1241.8,1687.2 1242.1,1687.0 1242.4,1686.9 1242.7,1686.7 1243.0,1686.6 1243.3,1686.4 1243.6,1686.3 1243.9,1686.1 1244.2,1685.9 1244.5,1685.7 1244.8,1685.5 1245.1,1685.3 1245.4,1685.1 1245.7,1684.8 1246.0,1684.6 1246.3,1684.3 1246.4,1684.2" fill="none" stroke="#0000ff" stroke-width="10.4" stroke-linejoin="round" />
<polyline points="1343.7,1682.2 1344.0,1682.5 1344.3,1682.9 1344.6,1683.2 1344.9,1683.5 1345.2,1683.8 1345.5,1684.1 1345.8,1684.4 1346.1,1684.6 1346.4,1684.9 1346.7,1685.1 1347.0,1685.4 1347.3,1685.6 1347.6,1685.8 1347.9,1686.0 1348.2,1686.1 1348.5,1686.3 1348.8,1686.5 1349.1,1686.6 1349.4,1686.8 1349.7,1686.9 1350.0,1687.1 1350.3,1687.2 1350.6,1687.3 1350.9,1687.4 1351.2,1687.5 1351.5,1687.6 1351.8,1687.7 1352.1,1687.8 1352.4,1687.9 1352.7,1688.0 1353.0,1688.1 1353.3,1688.2 1353.6,1688.2 1353.9,1688.3 1354.2,1688.4 1354.5,1688.4 1354.8,1688.5 1355.1,1688.5 1355.4,1688.6 1355.6,1688.6" fill="none" stroke="#0000ff" stroke-width="10.4" stroke-linejoin="round" />
<polyline points="1290.5,1270.6 1290.8,1268.2 1291.1,1265.9 1291.4,1263.7 1291.7,1261.6 1292.0,1259.7 1292.3,1257.9 1292.6,1256.2 1292.9,1254.6 1293.0,1254.2" fill="none" stroke="#0000ff" stroke-width="10.4" stroke-linejoin="round" />
<polyline points="1286.2,1317.7 1286.5,1313.8 1286.8,1310.0 1287.1,1306.2 1287.4,1302.5 1287.4,1302.5" fill="none" stroke="#0000ff" stroke-width="10.4" stroke-linejoin="round" />
<polyline points="1282.9,1365.3 1283.2,1360.7 1283.5,1356.2 1283.8,1351.7 1283.9,1350.2" fill="none" stroke="#0000ff" stroke-width="10.4" stroke-linejoin="round" />
<polyline points="1279.8,1414.6 1280.1,1409.7 1280.4,1404.9 1280.7,1400.1 1280.8,1398.5" fill="none" stroke="#0000ff" stroke-width="10.4" stroke-linejoin="round" />
<polyline points="1276.8,1462.7 1277.1,1458.0 1277.4,1453.2 1277.7,1448.4 1277.8,1446.8" fill="none" stroke="#0000ff" stroke-width="10.4" stroke-linejoin="round" />
<polyline points="1273.6,1511.3 1273.9,1507.0 1274.2,1502.6 1274.5,1498.1 1274.6,1496.6" fill="none" stroke="#0000ff" stroke-width="10.4" stroke-linejoin="round" />
<polyline points="1270.0,1559.6 1270.3,1555.9 1270.6,1552.1 1270.9,1548.3 1271.2,1544.4 1271.2,1544.4" fill="none" stroke="#0000ff" stroke-width="10.4" stroke-linejoin="round" />
<polyline points="1265.4,1608.4 1265.7,1605.7 1266.0,1602.9 1266.3,1600.0 1266.6,1597.1 1266.9,1594.1 1267.1,1592.1" fill="none" stroke="#0000ff" stroke-width="10.4" stroke-linejoin="round" />
<polyline points="1258.3,1655.7 1258.6,1654.3 1258.9,1652.9 1259.2,1651.4 1259.5,1649.9 1259.8,1648.3 1260.1,1646.6 1260.4,1644.9 1260.7,1643.2 1261.0,1641.4 1261.3,1639.5 1261.3,1639.5" fill="none" stroke="#0000ff" stroke-width="10.4" stroke-linejoin="round" />
<polyline points="1297.6,1249.0 1297.9,1249.9 1298.2,1250.9 1298.5,1252.0 1298.8,1253.2 1299.1,1254.6 1299.4,1256.2 1299.7,1257.9 1300.0,1259.7 1300.3,1261.6 1300.6,1263.7 1300.8,1265.1" fill="none" stroke="#0000ff" stroke-width="10.4" stroke-linejoin="round" />
<polyline points="1304.1,1296.6 1304.4,1300.2 1304.7,1303.8 1305.0,1307.5 1305.3,1311.2 1305.4,1312.5" fill="none" stroke="#0000ff" stroke-width="10.4" stroke-linejoin="round" />
<polyline points="1307.8,1345.7 1308.1,1350.2 1308.4,1354.7 1308.7,1359.2 1308.8,1360.7" fill="none" stroke="#0000ff" stroke-width="10.4" stroke-linejoin="round" />
<polyline points="1310.8,1392.1 1311.1,1396.9 1311.4,1401.7 1311.7,1406.5 1311.8,1408.1" fill="none" stroke="#0000ff" stroke-width="10.4" stroke-linejoin="round" />
<polyline points="1313.8,1440.4 1314.1,1445.2 1314.4,1450.0 1314.7,1454.8 1314.8,1456.4" fill="none" stroke="#0000ff" stroke-width="10.4" stroke-linejoin="round" />
<polyline points="1316.9,1489.1 1317.2,1493.6 1317.5,1498.1 1317.8,1502.6 1317.9,1504.0" fill="none" stroke="#0000ff" stroke-width="10.4" stroke-linejoin="round" />
<polyline points="1320.3,1537.8 1320.6,1541.8 1320.9,1545.7 1321.2,1549.6 1321.5,1553.4 1321.5,1553.4" fill="none" stroke="#0000ff" stroke-width="10.4" stroke-linejoin="round" />
<polyline points="1324.3,1585.9 1324.6,1589.0 1324.9,1592.1 1325.2,1595.2 1325.5,1598.1 1325.8,1601.0 1325.9,1602.0" fill="none" stroke="#0000ff" stroke-width="10.4" stroke-linejoin="round" />
<polyline points="1329.6,1632.3 1329.9,1634.3 1330.2,1636.3 1330.5,1638.3 1330.8,1640.2 1331.1,1642.0 1331.4,1643.8 1331.7,1645.5 1332.0,1647.2 1332.2,1648.3" fill="none" stroke="#0000ff" stroke-width="10.4" stroke-linejoin="round" />
<rect x="768.9" y="1191.4" width="1082.7" height="540.9" fill="none" stroke="#000" stroke-width="4.3"/>
<line x1="768.9" y1="1732.3" x2="768.9" y2="1721.7" stroke="#000" stroke-width="4.2"/>
<text x="769.5" y="1769.5" font-size="29.17" font-weight="normal" fill="#000" text-anchor="middle" >0</text>
<line x1="836.6" y1="1732.3" x2="836.6" y2="1726.8999999999999" stroke="#000" stroke-width="4.2"/>
<line x1="904.2" y1="1732.3" x2="904.2" y2="1721.7" stroke="#000" stroke-width="4.2"/>
<text x="904.8" y="1769.5" font-size="29.17" font-weight="normal" fill="#000" text-anchor="middle" >100</text>
<line x1="971.9" y1="1732.3" x2="971.9" y2="1726.8999999999999" stroke="#000" stroke-width="4.2"/>
<line x1="1039.6" y1="1732.3" x2="1039.6" y2="1721.7" stroke="#000" stroke-width="4.2"/>
<text x="1040.2" y="1769.5" font-size="29.17" font-weight="normal" fill="#000" text-anchor="middle" >200</text>
<line x1="1107.2" y1="1732.3" x2="1107.2" y2="1726.8999999999999" stroke="#000" stroke-width="4.2"/>
<line x1="1174.9" y1="1732.3" x2="1174.9" y2="1721.7" stroke="#000" stroke-width="4.2"/>
<text x="1175.5" y="1769.5" font-size="29.17" font-weight="normal" fill="#000" text-anchor="middle" >300</text>
<line x1="1242.6" y1="1732.3" x2="1242.6" y2="1726.8999999999999" stroke="#000" stroke-width="4.2"/>
<line x1="1310.2" y1="1732.3" x2="1310.2" y2="1721.7" stroke="#000" stroke-width="4.2"/>
<text x="1310.8" y="1769.5" font-size="29.17" font-weight="normal" fill="#000" text-anchor="middle" >400</text>
<line x1="1377.9" y1="1732.3" x2="1377.9" y2="1726.8999999999999" stroke="#000" stroke-width="4.2"/>
<line x1="1445.6" y1="1732.3" x2="1445.6" y2="1721.7" stroke="#000" stroke-width="4.2"/>
<text x="1446.2" y="1769.5" font-size="29.17" font-weight="normal" fill="#000" text-anchor="middle" >500</text>
<line x1="1513.3" y1="1732.3" x2="1513.3" y2="1726.8999999999999" stroke="#000" stroke-width="4.2"/>
<line x1="1580.9" y1="1732.3" x2="1580.9" y2="1721.7" stroke="#000" stroke-width="4.2"/>
<text x="1581.5" y="1769.5" font-size="29.17" font-weight="normal" fill="#000" text-anchor="middle" >600</text>
<line x1="1648.6" y1="1732.3" x2="1648.6" y2="1726.8999999999999" stroke="#000" stroke-width="4.2"/>
<line x1="1716.3" y1="1732.3" x2="1716.3" y2="1721.7" stroke="#000" stroke-width="4.2"/>
<text x="1716.9" y="1769.5" font-size="29.17" font-weight="normal" fill="#000" text-anchor="middle" >700</text>
<line x1="1783.9" y1="1732.3" x2="1783.9" y2="1726.8999999999999" stroke="#000" stroke-width="4.2"/>
<line x1="1851.6" y1="1732.3" x2="1851.6" y2="1721.7" stroke="#000" stroke-width="4.2"/>
<text x="1852.2" y="1769.5" font-size="29.17" font-weight="normal" fill="#000" text-anchor="middle" >800</text>
<text x="1310.0" y="1810.7" font-size="29.17" font-weight="normal" fill="#000" text-anchor="middle" >Line Scan (nm)</text>
<text transform="translate(747.6,1462.2) rotate(-90)" font-size="29.17" text-anchor="middle">Normalized measurement results (a.u.)</text>
<text x="797.5" y="1620.9" font-size="29.17" font-weight="bold" fill="#008000" text-anchor="start" >C</text>
<text x="1769.5" y="1627.3" font-size="29.17" font-weight="bold" fill="#008000" text-anchor="start" >C'</text>
<text x="1207.0" y="1644.8" font-size="29.17" font-weight="bold" fill="#ff0000" text-anchor="start" >B</text>
<text x="1354.5" y="1644.4" font-size="29.17" font-weight="bold" fill="#ff0000" text-anchor="start" >B'</text>
<text x="1184.2" y="1701.5" font-size="29.17" font-weight="bold" fill="#0000ff" text-anchor="start" >A</text>
<text x="1388.0" y="1702.0" font-size="29.17" font-weight="bold" fill="#0000ff" text-anchor="start" >A'</text>
<rect x="1527.7" y="1233.1" width="286.2" height="141.7" fill="#000"/><rect x="1519.4" y="1225.5" width="287.3" height="141.3" fill="#fff" stroke="#333" stroke-width="1"/>
<line x1="1542.3" y1="1248.4" x2="1629.9" y2="1248.4" stroke="#008000" stroke-width="10.6"/>
<line x1="1542.7" y1="1296.2" x2="1629.9" y2="1296.2" stroke="#ff0000" stroke-width="8"/>
<line x1="1542.3" y1="1344.5" x2="1629.9" y2="1344.5" stroke="#0000ff" stroke-width="10.4" stroke-dasharray="18 16.6"/>
<text x="1640.6" y="1259.7" font-size="29.17" font-weight="bold" fill="#000" text-anchor="start" >Confocal</text>
<text x="1640.6" y="1308.2" font-size="29.17" font-weight="bold" fill="#000" text-anchor="start" >DSPP</text>
<text x="1642.0" y="1356.3" font-size="29.17" font-weight="bold" fill="#000" text-anchor="start" >AFM</text>
</g>
<text x="-0.5" y="30.3" font-size="42" font-weight="bold" fill="#000" text-anchor="start" >a</text>
<text x="684.5" y="30.5" font-size="42" font-weight="bold" fill="#000" text-anchor="start" >b</text>
<text x="1284.5" y="30.5" font-size="42" font-weight="bold" fill="#000" text-anchor="start" >c</text>
<text x="-1.0" y="559.8" font-size="42" font-weight="bold" fill="#000" text-anchor="start" >d</text>
<text x="955.5" y="563.5" font-size="42" font-weight="bold" fill="#000" text-anchor="start" >e</text>
<text x="4.2" y="1189.5" font-size="42" font-weight="bold" fill="#000" text-anchor="start" >f</text>
<text x="724.5" y="1190.0" font-size="42" font-weight="bold" fill="#000" text-anchor="start" >g</text>
</svg></body></html>
